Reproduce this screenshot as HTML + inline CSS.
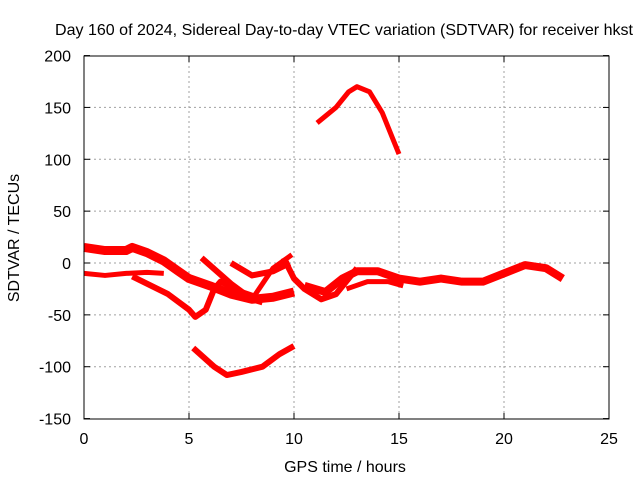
<!DOCTYPE html>
<html><head><meta charset="utf-8"><style>
body{margin:0;background:#fff;}
svg{display:block;font-family:"Liberation Sans",sans-serif;font-size:16px;}
</style></head><body>
<svg id="chart" width="640" height="480">
<rect width="640" height="480" fill="#fff"/>
<text x="55" y="35" textLength="578" lengthAdjust="spacingAndGlyphs">Day 160 of 2024, Sidereal Day-to-day VTEC variation (SDTVAR) for receiver hkst</text>
<g id="grid"></g>
<g id="series"></g>
<rect x="84" y="56" width="525" height="363" fill="none" stroke="#000"/>
<g id="ticks"></g>
<text x="345" y="472" text-anchor="middle">GPS time / hours</text>
<text transform="translate(19,238) rotate(-90)" text-anchor="middle">SDTVAR / TECUs</text>
</svg>
<script>
const xTicks=[0,5,10,15,20,25];
const yTicks=[-150,-100,-50,0,50,100,150,200];
const seriesTopBand=[[0,15],[1,12],[2,12],[2.3,15],[3,10],[3.8,2],[4.5,-8],[5,-15],[6,-22],[7,-30],[8,-35],[9,-33],[10,-28]];
const seriesFlat=[[0,-10],[1,-12],[2,-10],[3,-9],[3.8,-10]];
const seriesDip=[[2.3,-13],[3,-20],[4,-30],[5,-45],[5.3,-52],[5.8,-45],[6.2,-25],[6.5,-18],[7.5,-28],[8.5,-35]];
const seriesLow=[[5.2,-82],[6.2,-100],[6.8,-108],[7.5,-105],[8.5,-100],[9.3,-88],[10,-80]];
const seriesArc=[[11.1,135],[12,150],[12.6,165],[13,170],[13.6,165],[14.2,145],[14.7,120],[15,105]];
const seriesDesc1=[[5.6,5],[7,-20],[8,-35],[8.5,-38]];
const seriesDesc2=[[7,0],[8,-12],[9,-8],[9.8,0]];
const seriesAsc=[[8,-35],[9,-5],[9.9,8]];
const seriesCross=[[9.5,5],[10,-15],[10.5,-25],[11.3,-35],[12,-30],[13,-5]];
const seriesRight=[[10.5,-22],[11.5,-28],[12.3,-15],[13,-8],[14,-8],[15,-15],[16,-18],[17,-15],[18,-18],[19,-18],[20,-10],[21,-2],[22,-5],[22.8,-15]];
const seriesRight2=[[12.5,-25],[13.5,-18],[14.5,-18],[15.2,-22]];
const allSeries=[seriesTopBand,seriesFlat,seriesDip,seriesLow,seriesArc,seriesDesc1,seriesDesc2,seriesAsc,seriesCross,seriesRight,seriesRight2];
const widths=[9,5,6,6,5,6,6,5,6,8,5];
const X=v=>84+v*21, Y=v=>263-v*363/350;
const NS="http://www.w3.org/2000/svg";
const grid=document.getElementById('grid'),ticks=document.getElementById('ticks'),sg=document.getElementById('series');
function mk(t,a,p){const e=document.createElementNS(NS,t);for(const k in a)e.setAttribute(k,a[k]);p.appendChild(e);return e;}
xTicks.forEach(t=>{
 if(t>0&&t<25){const g=mk('line',{x1:X(t),x2:X(t),y1:56,y2:419,stroke:'#a0a0a0','stroke-dasharray':'2,3'},grid);
 }
 mk('line',{x1:X(t),x2:X(t),y1:419,y2:413,stroke:'#000'},ticks);
 mk('line',{x1:X(t),x2:X(t),y1:56,y2:62,stroke:'#000'},ticks);
 const l=mk('text',{x:X(t),y:444,'text-anchor':'middle'},ticks);l.textContent=t;
 
});
yTicks.forEach(t=>{
 if(t>-150&&t<200){const g=mk('line',{x1:84,x2:609,y1:Y(t),y2:Y(t),stroke:'#a0a0a0','stroke-dasharray':'2,3'},grid);
 }
 mk('line',{x1:84,x2:90,y1:Y(t),y2:Y(t),stroke:'#000'},ticks);
 mk('line',{x1:603,x2:609,y1:Y(t),y2:Y(t),stroke:'#000'},ticks);
 const l=mk('text',{x:71,y:Y(t)+6,'text-anchor':'end'},ticks);l.textContent=t;
 
});
allSeries.forEach((s,i)=>{
 const p=mk('polyline',{points:s.map(d=>X(d[0])+','+Y(d[1])).join(' '),fill:'none',stroke:'#ff0000','stroke-width':widths[i],'stroke-linejoin':'round'},sg);
 
});
</script>
</body></html>
